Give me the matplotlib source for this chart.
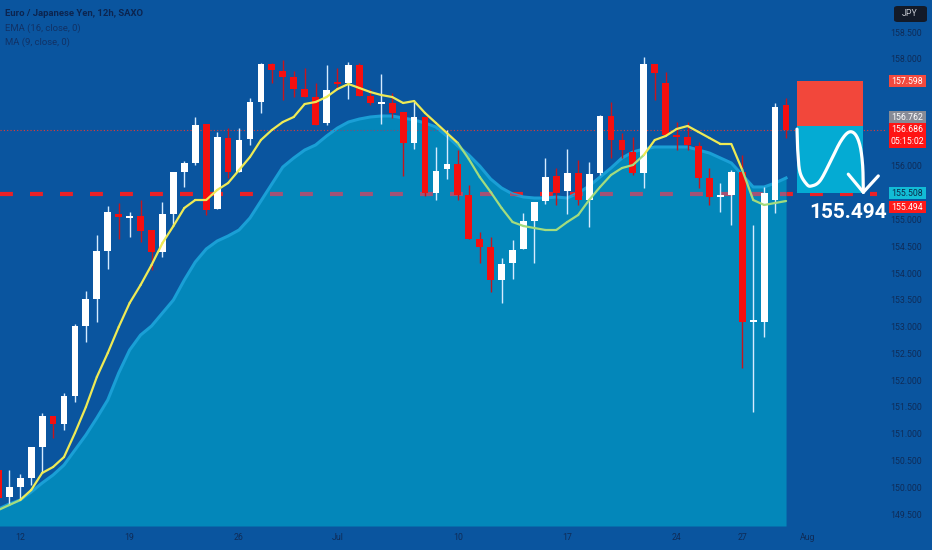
import numpy as np
import matplotlib
matplotlib.use('Agg')
import matplotlib.pyplot as plt
from matplotlib.collections import LineCollection
from matplotlib.patches import Rectangle, FancyBboxPatch

plt.rcParams['font.family'] = ['Roboto', 'DejaVu Sans']

# 12h bars, index 0 = first bar of Jun 12
bar_idx = np.arange(-1, 72)

opens = [150.341, 149.837, 150.023, 150.191, 150.770, 151.349, 151.200, 151.722, 153.029, 153.534,
         154.430, 155.120, 155.046, 155.083, 154.822, 154.411, 155.120, 155.905, 156.073, 156.801,
         155.214, 156.540, 155.905, 156.521, 157.212, 157.921, 157.790, 157.678, 157.454, 157.305,
         156.820, 157.585, 157.566, 157.903, 157.324, 157.174, 157.193, 157.025, 156.446, 156.932,
         155.513, 155.961, 156.054, 155.475, 154.654, 154.504, 153.888, 154.206, 154.467, 154.990,
         155.363, 155.830, 155.550, 155.886, 155.382, 155.886, 156.950, 156.502, 156.278, 155.886,
         157.921, 157.566, 156.596, 156.558, 156.390, 155.793, 155.438, 155.475, 155.905, 153.104,
         153.104, 155.382, 157.156]
highs = [150.415, 150.341, 150.266, 150.770, 151.405, 151.349, 151.778, 153.067, 153.683, 154.728,
         155.270, 155.326, 155.158, 155.382, 154.822, 155.345, 155.905, 156.110, 156.932, 156.801,
         156.652, 156.726, 156.726, 157.286, 157.940, 157.940, 157.996, 157.790, 157.847, 157.566,
         157.903, 157.847, 157.959, 157.940, 157.454, 157.734, 157.380, 157.025, 157.212, 156.932,
         156.372, 156.689, 156.315, 155.662, 154.784, 154.691, 154.299, 154.635, 155.139, 155.345,
         156.166, 155.979, 156.334, 156.129, 156.091, 156.969, 157.212, 156.633, 156.558, 158.052,
         157.921, 157.772, 156.838, 156.838, 156.465, 155.979, 155.699, 155.942, 156.222, 154.915,
         155.625, 157.193, 157.286]
lows = [149.725, 149.687, 149.781, 150.061, 150.285, 150.938, 151.088, 151.610, 152.731, 153.104,
        154.094, 154.654, 154.691, 154.598, 154.075, 154.318, 154.915, 155.625, 156.035, 155.102,
        155.214, 155.793, 155.905, 156.409, 157.006, 157.566, 157.249, 157.305, 157.305, 156.782,
        156.782, 157.436, 157.268, 157.324, 157.156, 156.801, 156.913, 155.830, 156.334, 155.457,
        155.382, 155.774, 155.382, 154.654, 154.206, 153.664, 153.459, 153.907, 154.467, 154.206,
        155.307, 155.289, 155.120, 155.289, 154.878, 155.849, 156.166, 156.166, 155.849, 155.606,
        157.249, 156.596, 156.315, 156.315, 155.606, 155.289, 155.158, 154.915, 152.245, 151.424,
        152.824, 155.139, 156.540]
closes = [149.818, 150.023, 150.191, 150.770, 151.349, 151.200, 151.722, 153.029, 153.534, 154.430,
          155.158, 155.064, 155.083, 154.803, 154.411, 155.120, 155.905, 156.073, 156.782, 155.195,
          156.558, 155.905, 156.502, 157.212, 157.921, 157.809, 157.678, 157.454, 157.305, 156.782,
          157.436, 157.548, 157.903, 157.324, 157.193, 157.212, 157.006, 156.446, 156.932, 155.513,
          155.923, 156.054, 155.475, 154.654, 154.504, 153.888, 154.187, 154.448, 154.990, 155.345,
          155.811, 155.513, 155.886, 155.382, 155.867, 156.950, 156.502, 156.315, 155.886, 157.921,
          157.753, 156.596, 156.558, 156.409, 155.793, 155.438, 155.475, 155.905, 153.104, 153.123,
          155.513, 157.118, 156.689]

# fast moving average line (yellow) and slow one (filled area)
ma_line = [149.594, 149.687, 149.781, 149.967, 150.285, 150.397, 150.583, 151.032, 151.517, 152.077,
           152.525, 153.011, 153.459, 153.795, 154.168, 154.579, 154.896, 155.233, 155.382, 155.382,
           155.569, 155.699, 155.942, 156.185, 156.502, 156.689, 156.838, 156.932, 157.174, 157.212,
           157.305, 157.454, 157.548, 157.473, 157.398, 157.342, 157.305, 157.193, 157.230, 157.006,
           156.820, 156.633, 156.446, 156.147, 155.811, 155.531, 155.233, 154.971, 154.896, 154.859,
           154.822, 154.822, 154.971, 155.102, 155.382, 155.625, 155.849, 155.979, 156.035, 156.222,
           156.502, 156.577, 156.708, 156.764, 156.652, 156.540, 156.428, 156.428, 155.942, 155.382,
           155.289, 155.326, 155.363]
ema_area = [149.613, 149.706, 149.781, 149.930, 150.098, 150.247, 150.434, 150.714, 150.994, 151.312,
            151.648, 152.152, 152.581, 152.861, 153.029, 153.272, 153.515, 153.888, 154.224, 154.467,
            154.616, 154.710, 154.822, 155.046, 155.363, 155.681, 155.998, 156.166, 156.315, 156.409,
            156.577, 156.726, 156.838, 156.894, 156.932, 156.950, 156.950, 156.913, 156.876, 156.820,
            156.745, 156.577, 156.390, 156.222, 156.017, 155.774, 155.606, 155.494, 155.438, 155.419,
            155.419, 155.438, 155.419, 155.513, 155.643, 155.811, 155.979, 156.166, 156.278, 156.334,
            156.372, 156.372, 156.372, 156.372, 156.315, 156.259, 156.166, 156.073, 155.849, 155.625,
            155.625, 155.699, 155.793]

date_pos = [1, 11, 21, 30, 41, 51, 61, 67, 73]
date_lab = ['12', '19', '26', 'Jul', '10', '17', '24', '27', 'Aug']
price_ticks = [158.5, 158.0, 157.5, 157.0, 156.5, 156.0, 155.5, 155.0, 154.5, 154.0,
               153.5, 153.0, 152.5, 152.0, 151.5, 151.0, 150.5, 150.0, 149.5]

level = 155.494
last_price = 156.686
stop_price = 157.598
entry_price = 156.762
target_price = 155.508


def py(pix):
    return 158.5 - (pix - 33) / 53.56


def kx(pix):
    return (pix - 9.3) / 10.94


bg = '#0a559f'
fig = plt.figure(figsize=(9.32, 5.5), dpi=100, facecolor=bg)
ax = fig.add_axes([0, 0, 1, 1])
ax.set_xlim(kx(0), kx(932))
ax.set_ylim(py(550), py(0))
ax.axis('off')

o = np.array(opens); h = np.array(highs); l = np.array(lows); c = np.array(closes)
ma_line = np.array(ma_line); ema_area = np.array(ema_area)
floor = py(526)

# horizontal levels (bright, under the area)
ax.hlines(level, kx(0), kx(877), color='#ea2127', lw=3, linestyles=(0, (3.1, 4.1)), zorder=1)
ax.hlines(last_price, kx(0), kx(885), color='#e53935', lw=0.8, linestyles=(0, (1, 2)), zorder=1)

area = ax.fill_between(bar_idx, ema_area, floor, color='#0387ba', lw=0, zorder=2)
ax.plot(bar_idx, ema_area, color='#1a9fd6', lw=2.2, zorder=2.2)
clip = area.get_paths()[0]
m1 = ax.hlines(level, kx(0), kx(877), color='#a45276', lw=3, linestyles=(0, (3.1, 4.1)), zorder=2.3)
m2 = ax.hlines(last_price, kx(0), kx(885), color='#8a4a70', lw=0.8, linestyles=(0, (1, 2)), zorder=2.3)
m1.set_clip_path(clip, ax.transData)
m2.set_clip_path(clip, ax.transData)

# candles
up = c >= o
lo_body = np.minimum(o, c)
h_body = np.maximum(np.abs(c - o), 0.03)
ax.vlines(bar_idx[up], l[up], h[up], color='#d6ebff', lw=1, zorder=4)
ax.vlines(bar_idx[~up], l[~up], h[~up], color='#c8141c', lw=1, zorder=4)
ax.bar(bar_idx[up], h_body[up], bottom=lo_body[up], width=0.62, color='#ffffff', lw=0, zorder=5)
ax.bar(bar_idx[~up], h_body[~up], bottom=lo_body[~up], width=0.62, color='#f50f0f', lw=0, zorder=5)

# yellow line, greener where it runs inside the area
pts = np.column_stack([bar_idx, ma_line])
segs = np.stack([pts[:-1], pts[1:]], axis=1)
inside = (ma_line[:-1] + ma_line[1:]) < (ema_area[:-1] + ema_area[1:])
cols = np.where(inside, '#a3dc7e', '#eeea55')
ax.add_collection(LineCollection(segs, colors=cols, linewidths=1.6, zorder=6, capstyle='round'))

# position tool
x0, x1 = kx(797), kx(863)
ax.add_patch(Rectangle((x0, entry_price), x1 - x0, stop_price - entry_price, color='#f2473b', lw=0, zorder=3))
ax.add_patch(Rectangle((x0, target_price), x1 - x0, entry_price - target_price, color='#04abd3', lw=0, zorder=3))


def smooth(xs, ys, n=12):
    P = np.column_stack([xs, ys])
    P = np.vstack([P[0], P, P[-1]])
    out = []
    t = np.linspace(0, 1, n, endpoint=False)[:, None]
    for i in range(1, len(P) - 2):
        p0, p1, p2, p3 = P[i - 1], P[i], P[i + 1], P[i + 2]
        out.append(0.5 * (2 * p1 + (-p0 + p2) * t + (2 * p0 - 5 * p1 + 4 * p2 - p3) * t ** 2
                          + (-p0 + 3 * p1 - 3 * p2 + p3) * t ** 3))
    out.append(P[-2][None])
    return np.vstack(out)


u = np.array([0.0, 0.01, 0.045, 0.147, 0.223, 0.348, 0.5, 0.652, 0.777, 0.879, 0.955, 0.995, 1.005])
v = np.array([0.955, 0.657, 0.313, 0.134, 0.109, 0.184, 0.458, 0.757, 0.906, 0.881, 0.706, 0.407, 0.015])
span = entry_price - target_price
curve = smooth(x0 + u * (x1 - x0), target_price + v * span)
ax.plot(curve[:, 0], curve[:, 1], color='white', lw=2.3, solid_capstyle='round', zorder=8)
tip = (x0 + 1.005 * (x1 - x0), target_price + 0.015 * span)
for uu, vv in [(0.777, 0.284), (1.232, 0.258)]:
    ax.plot([x0 + uu * (x1 - x0), tip[0]], [target_price + vv * span, tip[1]],
            color='white', lw=2.3, solid_capstyle='round', zorder=8)

ax.text(kx(848), py(212), '155.494', color='white', fontsize=15, fontweight='bold',
        ha='center', va='center', zorder=9)

# right price scale and its badges
txt = '#0f2c58'
ytr = ax.get_yaxis_transform()
badges = [
    (['157.598'], py(81), '#f44a3e', 'white'),
    (['156.762'], py(117), '#878b96', 'white'),
    (['156.686', '05:15:02'], py(135.5), '#ff1414', 'white'),
    (['155.508'], py(193), '#12bcd6', '#0b2a4a'),
    (['155.494'], py(207), '#ff1a1a', 'white'),
]
row = 12.5 / 53.56
spans = [(yc - row * len(b) / 2, yc + row * len(b) / 2) for b, yc, _, _ in badges]
for p in price_ticks:
    if any(lo < p < hi for lo, hi in spans):
        continue  # hidden behind a badge
    ax.text(922 / 932, p, f'{p:.3f}', transform=ytr, ha='right', va='center',
            fontsize=6.3, color=txt, zorder=9)

for (lines, yc, fc, tc), (lo, hi) in zip(badges, spans):
    ax.add_patch(Rectangle((889 / 932, lo), 37 / 932, hi - lo, transform=ytr,
                           color=fc, lw=0, zorder=10))
    for j, s in enumerate(lines):
        off = (j - (len(lines) - 1) / 2) * 11 / 53.56
        ax.text(907.5 / 932, yc - off, s, transform=ytr, ha='center', va='center',
                fontsize=6.3, color=tc, zorder=11)

ax.add_patch(FancyBboxPatch((894 / 932, 1 - 22 / 550), 33 / 932, 16 / 550,
                            boxstyle='round,pad=0,rounding_size=0.004', transform=ax.transAxes,
                            color='#131a28', lw=0, zorder=10))
ax.text(910 / 932, 1 - 14 / 550, 'JPY', transform=ax.transAxes, ha='center', va='center',
        fontsize=6.3, color='#c9ccd4', zorder=11)

# time axis
xtr = ax.get_xaxis_transform()
for p, s in zip(date_pos, date_lab):
    ax.text(p, 12 / 550, s, transform=xtr, ha='center', va='center', fontsize=6.3, color=txt)

# legend
ax.text(5 / 932, 1 - 14 / 550, 'Euro / Japanese Yen, 12h, SAXO', transform=ax.transAxes,
        fontsize=6.8, fontweight='bold', color='#0c2550', va='center')
ax.text(5 / 932, 1 - 28 / 550, 'EMA (16, close, 0)', transform=ax.transAxes,
        fontsize=6.8, color='#113266', va='center')
ax.text(5 / 932, 1 - 42 / 550, 'MA (9, close, 0)', transform=ax.transAxes,
        fontsize=6.8, color='#113266', va='center')

fig.savefig('out.png', dpi=100, facecolor=bg)
